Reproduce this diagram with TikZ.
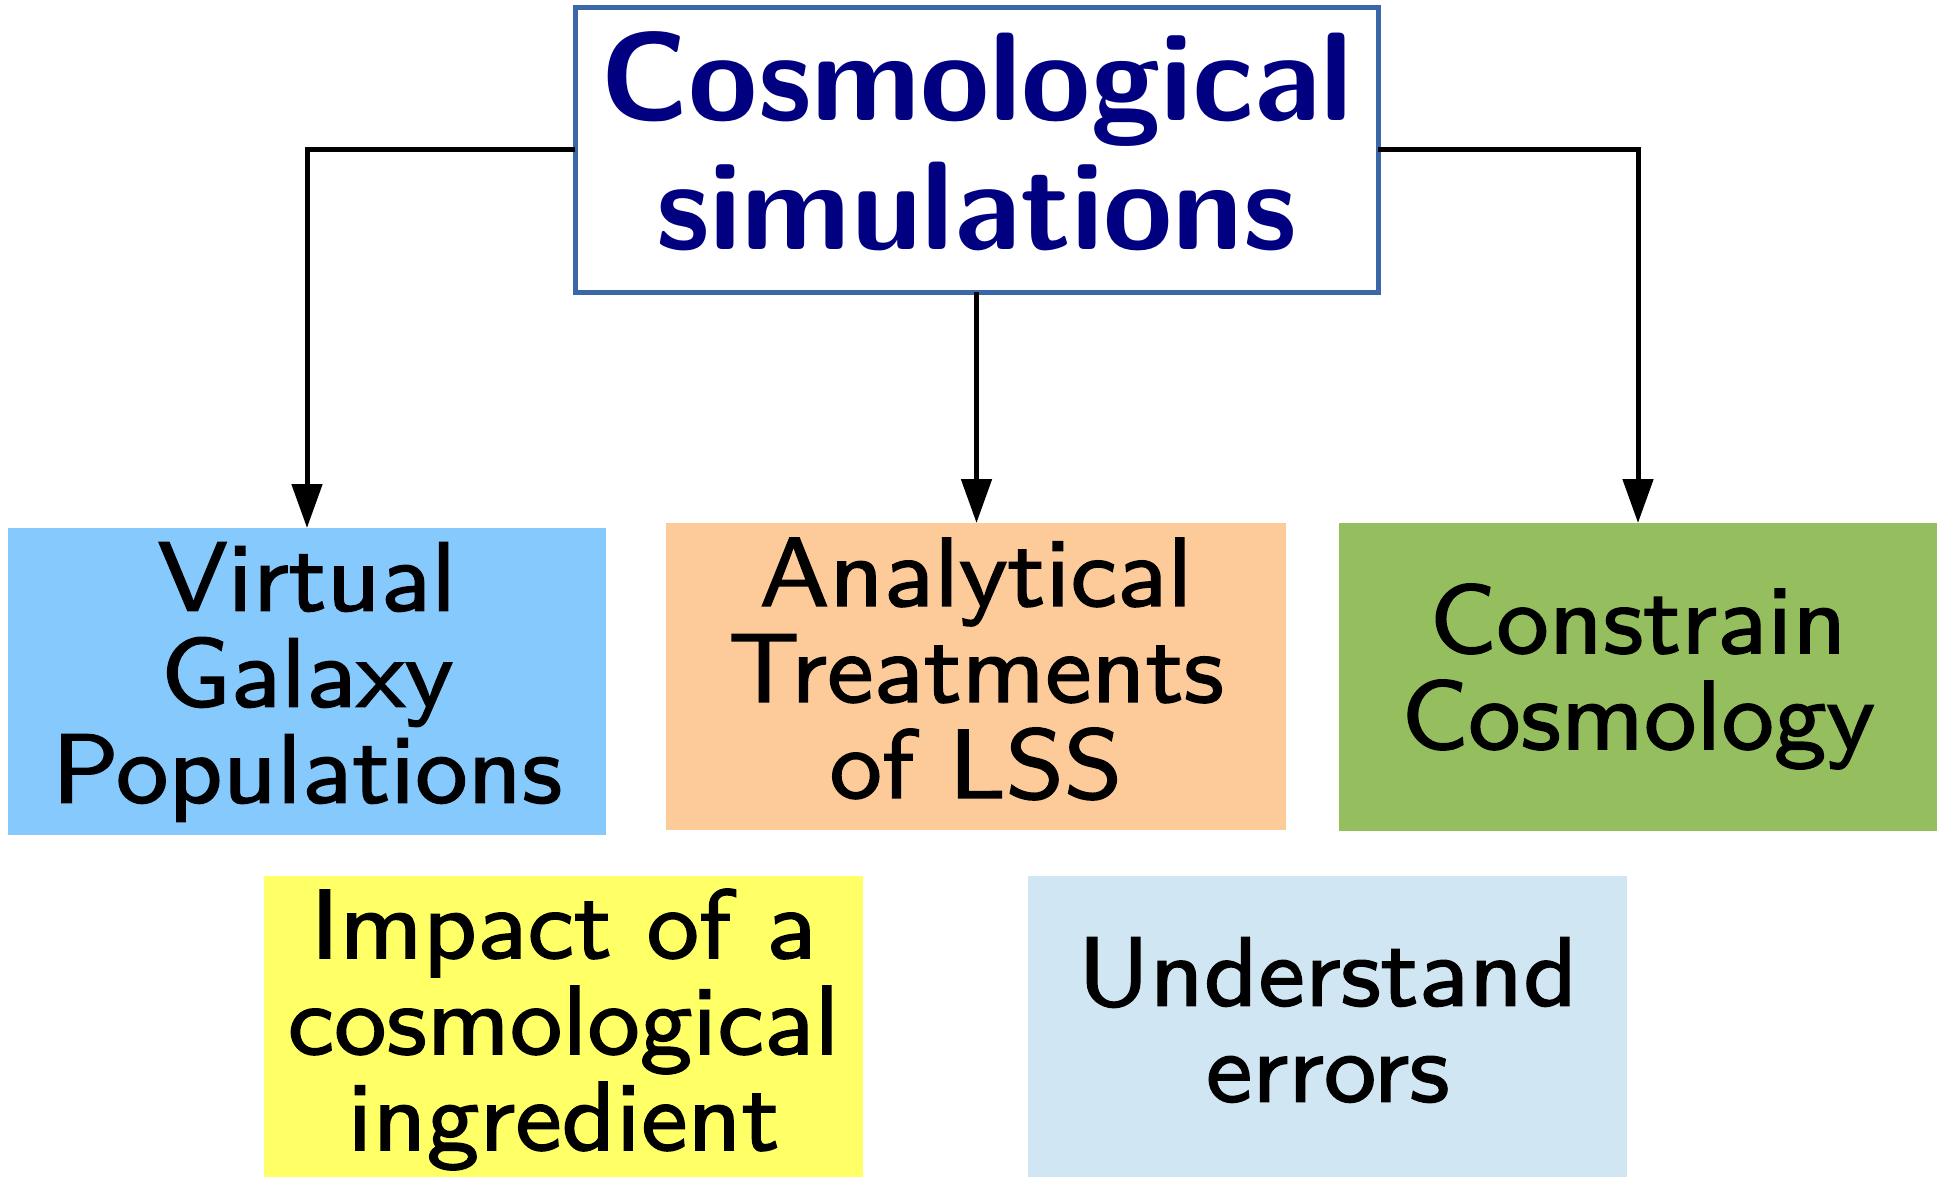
\documentclass[tikz,border=0pt]{standalone}
\usepackage{fontspec}
\newfontfamily\bodyfont{lmsans10-regular.otf}[FakeBold=1.6,FakeStretch=1.07]
\usetikzlibrary{arrows.meta}
\definecolor{titleblue}{HTML}{3A67A8}
\definecolor{navytext}{HTML}{000080}
\definecolor{skyfill}{HTML}{85C9FD}
\definecolor{peachfill}{HTML}{FDCB9A}
\definecolor{greenfill}{HTML}{95BE5E}
\definecolor{yellowfill}{HTML}{FFFF66}
\definecolor{paleblue}{HTML}{D0E6F3}
\tikzset{
  boxshape/.style={rectangle, inner sep=0pt, outer sep=0pt},
  bodytext/.style={align=center, inner sep=0pt, text=black,
    font=\bodyfont\fontsize{98}{96}\selectfont},
  titletext/.style={align=center, inner sep=0pt, text=navytext,
    font=\sffamily\bfseries\fontsize{126}{129}\selectfont},
  conn/.style={line width=5pt, draw=black, -{Triangle[length=44pt,width=30pt]}},
}
\begin{document}
\begin{tikzpicture}[x=1pt,y=-1pt]
\useasboundingbox (0,0) rectangle (1945,1177);
% title
\node[boxshape, draw=titleblue, line width=5pt, fill=white,
      minimum width=803pt, minimum height=284pt] (sim) at (976.5,150) {};
\node[titletext] (simt) at (976.5,141) {Cosmological\\simulations};
% first row
\node[boxshape, fill=skyfill, minimum width=598pt, minimum height=307pt] (vgp) at (307,681.5) {};
\node[bodytext] (vgpt) at (307,682) {Virtual\\Galaxy\\Populations};
\node[boxshape, fill=peachfill, minimum width=620pt, minimum height=307pt] (lss) at (976,676.5) {};
\node[bodytext] (lsst) at (976,669) {Analytical\\Treatments\\of LSS};
\node[boxshape, fill=greenfill, minimum width=598pt, minimum height=308pt] (cc) at (1638,677) {};
\node[bodytext] (cct) at (1638,676.5) {Constrain\\Cosmology};
% second row
\node[boxshape, fill=yellowfill, minimum width=599pt, minimum height=301pt] (imp) at (563.5,1026.5) {};
\node[bodytext] (impt) at (563.5,1029.5) {Impact of a\\cosmological\\ingredient};
\node[boxshape, fill=paleblue, minimum width=599pt, minimum height=301pt] (err) at (1327.5,1026.5) {};
\node[bodytext] (errt) at (1327.5,1020) {Understand\\errors};
% connectors
\draw[conn] (sim.west) -| (vgp.north);
\draw[conn] (sim.south) -- (sim.south |- lss.north);
\draw[conn] (sim.east) -| (cc.north);
\end{tikzpicture}
\end{document}
